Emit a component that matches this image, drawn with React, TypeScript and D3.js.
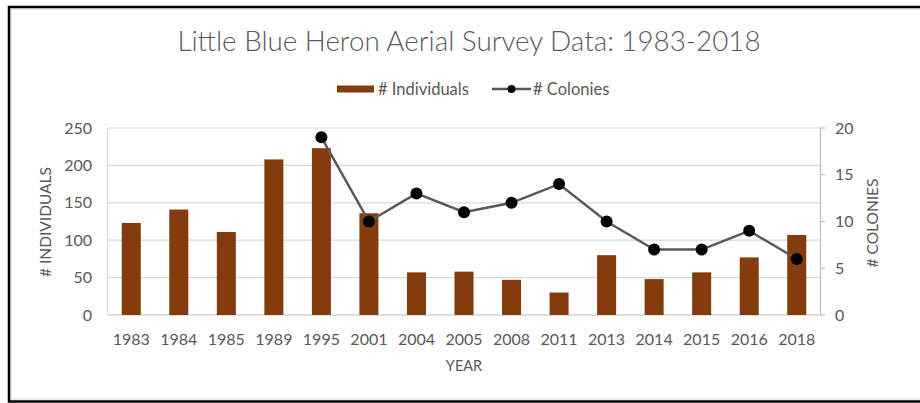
import React from "react";
import * as d3 from "d3";

const years = ["1983","1984","1985","1989","1995","2001","2004","2005","2008","2011","2013","2014","2015","2016","2018"];
const individuals = [123,141,111,208,223,136,57,58,47,30,80,48,57,77,107];
const colonies: (number|null)[] = [null,null,null,null,19,10,13,11,12,14,10,7,7,9,6];
const leftTicks = [0,50,100,150,200,250];
const rightTicks = [0,5,10,15,20];

const W = 920, H = 403;
const FONT = "Lato, 'Open Sans', sans-serif";
const TXT = "#595959";

export default function App() {
  const x = d3.scaleBand<string>().domain(years).range([107.5, 820.5]).paddingInner(0.6).paddingOuter(0.3);
  const xc = (d: string) => (x(d) as number) + x.bandwidth() / 2;
  const yL = d3.scaleLinear().domain([0, 250]).range([315, 128]);
  const yR = d3.scaleLinear().domain([0, 20]).range([315, 128]);
  const pts = years.map((y, i) => ({ y, v: colonies[i] })).filter(p => p.v !== null) as {y:string; v:number}[];
  const line = d3.line<{y:string; v:number}>().x(p => xc(p.y)).y(p => yR(p.v));

  return (
    <svg width={W} height={H} style={{ position: "fixed", left: 0, top: 0, background: "#fff" }} fontFamily={FONT}>
      <rect x={0} y={0} width={W} height={H} fill="#fff" />
      <rect x={11} y={9} width={1000} height={390} fill="none" stroke="#d9d9d9" strokeWidth={1} />
      <rect x={9} y={7} width={1000} height={394.5} fill="none" stroke="#000" strokeWidth={2.5} />
      <text x={469} y={51} textAnchor="middle" fontSize={27.8} fontWeight={300} fill={TXT}>Little Blue Heron Aerial Survey Data: 1983-2018</text>

      {/* legend */}
      <rect x={337} y={85.5} width={37} height={7} fill="#843C0C" />
      <text x={378} y={94.5} fontSize={16.5} fill={TXT}># Individuals</text>
      <line x1={492} x2={531} y1={89} y2={89} stroke="#595959" strokeWidth={2.5} />
      <circle cx={511.5} cy={89} r={4} fill="#000" />
      <text x={533} y={94.5} fontSize={16.5} fill={TXT}># Colonies</text>

      {/* gridlines */}
      {leftTicks.map(t => (
        <line key={t} x1={107.5} x2={820.5} y1={yL(t)} y2={yL(t)} stroke={t === 0 ? "#bfbfbf" : "#d9d9d9"} strokeWidth={1.2} />
      ))}
      <line x1={107.5} x2={107.5} y1={128} y2={315} stroke="#d9d9d9" strokeWidth={1.2} />
      <line x1={820.5} x2={820.5} y1={128} y2={315} stroke="#bfbfbf" strokeWidth={1.2} />
      {rightTicks.map(t => (
        <line key={t} x1={820.5} x2={825} y1={yR(t)} y2={yR(t)} stroke="#bfbfbf" strokeWidth={1.2} />
      ))}

      {/* bars */}
      {years.map((y, i) => (
        <rect key={y} x={x(y)} y={yL(individuals[i])} width={x.bandwidth()} height={yL(0) - yL(individuals[i])} fill="#843C0C" />
      ))}

      {/* line */}
      <path d={line(pts) || ""} fill="none" stroke="#595959" strokeWidth={2.5} />
      {pts.map(p => (
        <circle key={p.y} cx={xc(p.y)} cy={yR(p.v)} r={6} fill="#000" />
      ))}

      {/* axis labels */}
      {leftTicks.map(t => (
        <text key={t} x={92} y={yL(t) + 5.5} textAnchor="end" fontSize={16} fill={TXT}>{t}</text>
      ))}
      {rightTicks.map(t => (
        <text key={t} x={835} y={yR(t) + 5.5} textAnchor="start" fontSize={16} fill={TXT}>{t}</text>
      ))}
      {years.map(y => (
        <text key={y} x={xc(y)} y={344.5} textAnchor="middle" fontSize={16} fill={TXT}>{y}</text>
      ))}
      <text x={464} y={371} textAnchor="middle" fontSize={14.5} fill={TXT}>YEAR</text>
      <text transform={`translate(51,222) rotate(-90)`} textAnchor="middle" fontSize={15.5} fill={TXT}># INDIVIDUALS</text>
      <text transform={`translate(878,223) rotate(-90)`} textAnchor="middle" fontSize={15.5} fill={TXT}># COLONIES</text>
    </svg>
  );
}
